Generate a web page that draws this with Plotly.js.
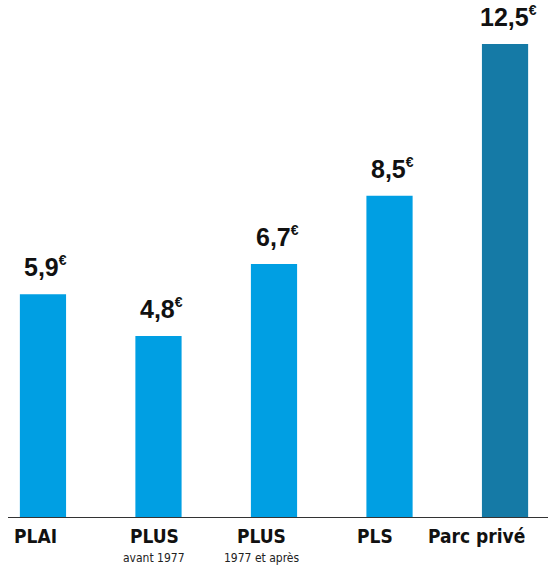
<!DOCTYPE html>
<html>
<head>
<meta charset="utf-8">
<script src="https://cdn.plot.ly/plotly-3.0.1.min.js"></script>
<style>html,body{margin:0;padding:0;background:#fff;}#chart{width:548px;height:573px;}</style>
</head>
<body>
<div id="chart"></div>
<script>
var categories = ["PLAI", "PLUS", "PLUS", "PLS", "Parc privé"];
var subLabels = ["", "avant 1977", "1977 et après", "", ""];
var values = [5.9, 4.8, 6.7, 8.5, 12.5];
var barColors = ["#009fe3", "#009fe3", "#009fe3", "#009fe3", "#157aa6"];
var labelShift = [-7, -4, -13, -15, -29];

var xIdx = categories.map(function(_, i){ return i; });

var trace = {
  type: "bar",
  x: xIdx,
  y: values,
  width: 0.4,
  marker: {color: barColors, line: {width: 0}},
  hoverinfo: "skip"
};

var annotations = [];
values.forEach(function(v, i){
  annotations.push({
    x: i, y: v, xref: "x", yref: "y",
    text: "<b>" + v.toFixed(1).replace(".", ",") + "<sup><span style='font-size:14px'>€</span></sup></b>",
    showarrow: false, xanchor: "center", yanchor: "bottom", yshift: 11, xshift: 3,
    font: {family: "Liberation Sans, Arial, sans-serif", size: 25, color: "#111"}
  });
  annotations.push({
    x: i, y: 0, xref: "x", yref: "y",
    text: "<b>" + categories[i] + "</b>",
    showarrow: false, xanchor: "center", yanchor: "top", yshift: -5, xshift: labelShift[i],
    font: {family: "DejaVu Sans Condensed, Liberation Sans Narrow, sans-serif", size: 19, color: "#111"}
  });
  if (subLabels[i]) {
    annotations.push({
      x: i, y: 0, xref: "x", yref: "y",
      text: subLabels[i],
      showarrow: false, xanchor: "center", yanchor: "top", yshift: -31, xshift: labelShift[i],
      font: {family: "DejaVu Sans Condensed, Liberation Sans Narrow, sans-serif", size: 12, color: "#222"}
    });
  }
});

var layout = {
  width: 548, height: 573,
  margin: {l: 0, r: 0, t: 0, b: 55, pad: 0},
  paper_bgcolor: "#fff", plot_bgcolor: "#fff",
  showlegend: false,
  xaxis: {range: [-0.372, 4.372], showgrid: false, zeroline: false, showticklabels: false, showline: false, ticks: "", fixedrange: true},
  yaxis: {range: [0, 13.66], showgrid: false, zeroline: false, showticklabels: false, showline: false, ticks: "", fixedrange: true},
  shapes: [{type: "line", xref: "paper", yref: "y", x0: 0.0146, x1: 1, y0: 0, y1: 0, line: {color: "#333", width: 2}}],
  annotations: annotations
};

Plotly.newPlot("chart", [trace], layout, {displayModeBar: false, staticPlot: true});
</script>
</body>
</html>
